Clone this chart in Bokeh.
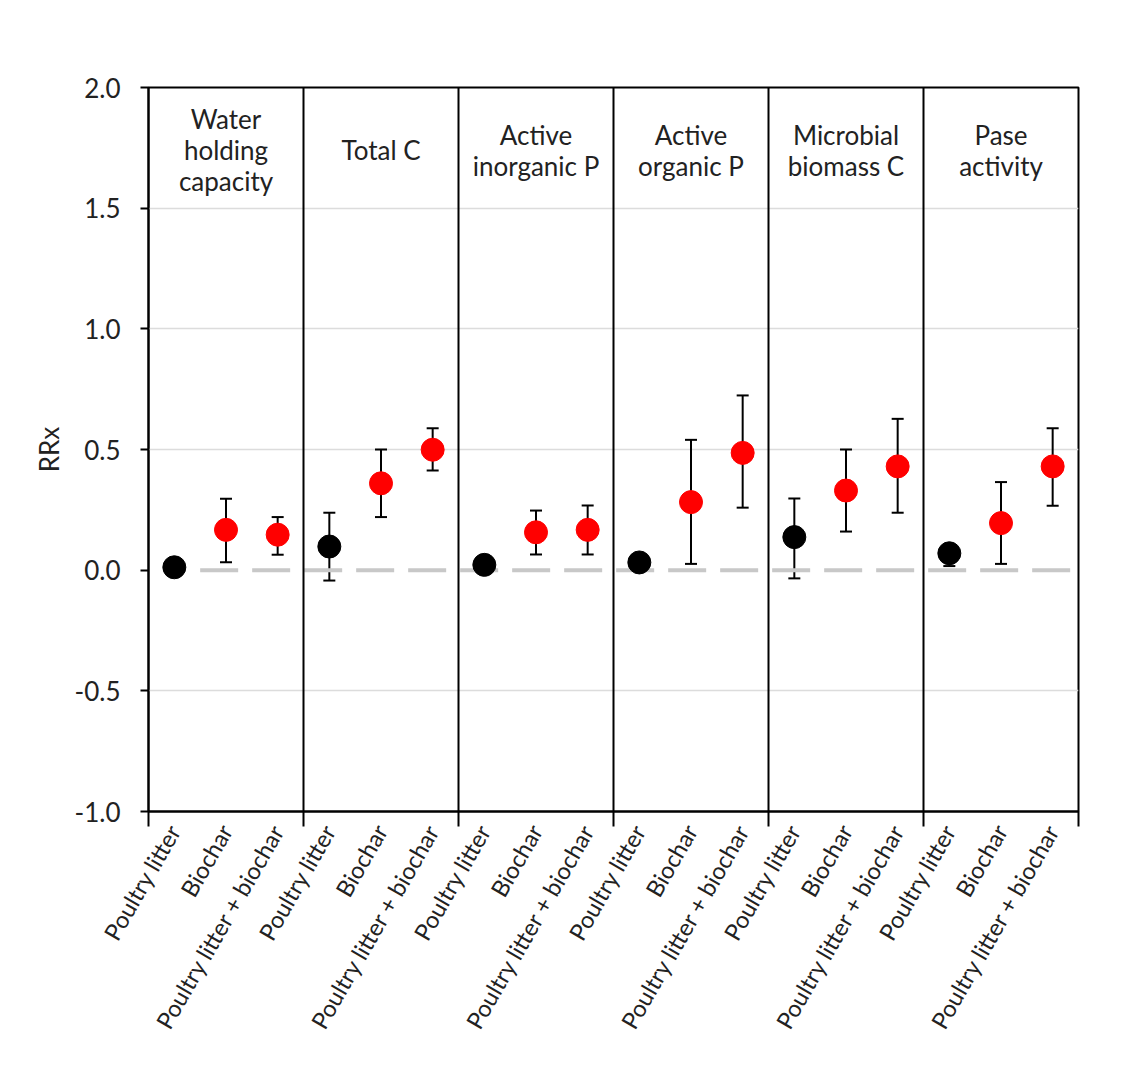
import math
from bokeh.plotting import figure
from bokeh.models import (FixedTicker, Range1d, Whisker, ColumnDataSource, Span, TeeHead)
from bokeh.core.properties import value
from bokeh.embed import file_html
from bokeh.resources import INLINE

# ---------------- data ----------------
panel_titles = ["Water\nholding\ncapacity", "Total C", "Active\ninorganic P",
                "Active\norganic P", "Microbial\nbiomass C", "Pase\nactivity"]
treatments = ["Poultry litter", "Biochar", "Poultry litter + biochar"]
treatment_colors = ["#000000", "#ff0000", "#ff0000"]

# mean RRx for each panel: [Poultry litter, Biochar, Poultry litter + biochar]
whc_mean = [0.012, 0.167, 0.147]
totc_mean = [0.098, 0.360, 0.499]
aip_mean = [0.022, 0.157, 0.167]
aop_mean = [0.032, 0.282, 0.486]
mbc_mean = [0.137, 0.330, 0.430]
pase_mean = [0.070, 0.195, 0.430]

# lower / upper error limits (None = no error bar visible)
whc_lower = [None, 0.033, 0.064]
whc_upper = [None, 0.296, 0.220]
totc_lower = [-0.043, 0.220, 0.413]
totc_upper = [0.238, 0.500, 0.588]
aip_lower = [None, 0.065, 0.065]
aip_upper = [None, 0.247, 0.268]
aop_lower = [None, 0.026, 0.259]
aop_upper = [None, 0.540, 0.724]
mbc_lower = [-0.034, 0.160, 0.238]
mbc_upper = [0.297, 0.500, 0.627]
pase_lower = [0.017, 0.026, 0.267]
pase_upper = [0.100, 0.365, 0.588]

y_ticks = [-1.0, -0.5, 0.0, 0.5, 1.0, 1.5, 2.0]
y_tick_labels = ["-1.0", "-0.5", "0.0", "0.5", "1.0", "1.5", "2.0"]

means = [whc_mean, totc_mean, aip_mean, aop_mean, mbc_mean, pase_mean]
lowers = [whc_lower, totc_lower, aip_lower, aop_lower, mbc_lower, pase_lower]
uppers = [whc_upper, totc_upper, aip_upper, aop_upper, mbc_upper, pase_upper]

n_t = len(treatments)
n_p = len(panel_titles)
n_all = n_t * n_p

xs, ys, cols = [], [], []
ex, el, eu = [], [], []
labels = {}
for i in range(n_p):
    for j in range(n_t):
        x = i * n_t + j
        xs.append(x)
        ys.append(means[i][j])
        cols.append(treatment_colors[j])
        labels[x] = treatments[j]
        if lowers[i][j] is not None:
            ex.append(x)
            el.append(lowers[i][j])
            eu.append(uppers[i][j])

FONT = "Lato"
TXT = "#222222"

p = figure(width=1118, height=1070, output_backend="svg", toolbar_location=None,
           x_range=Range1d(-0.5, n_all - 0.5), y_range=Range1d(-1.0, 2.0),
           min_border_left=148, min_border_right=40, min_border_top=87,
           min_border_bottom=259)
p.background_fill_color = "white"
p.border_fill_color = "white"
p.outline_line_color = "black"
p.outline_line_width = 2

# grid
p.xgrid.visible = False
p.ygrid.ticker = FixedTicker(ticks=[t for t in y_ticks if t not in (0.0, -1.0, 2.0)])
p.ygrid.grid_line_color = "#dcdcdc"
p.ygrid.grid_line_width = 1.5

# zero reference line (dashed), from between first and second category to the end
p.line(x=[0.5, n_all - 0.5], y=[0, 0], line_color="#c8c8c8", line_width=4,
       line_dash="38 14")

# panel separators
for i in range(1, n_p):
    p.add_layout(Span(location=i * n_t - 0.5, dimension="height",
                      line_color="black", line_width=2))

# error bars
esrc = ColumnDataSource(dict(x=ex, lower=el, upper=eu))
w = Whisker(source=esrc, base="x", lower="lower", upper="upper", dimension="height",
            line_color="black", line_width=2,
            upper_head=TeeHead(size=12, line_width=2, line_color="black"),
            lower_head=TeeHead(size=12, line_width=2, line_color="black"))
p.add_layout(w)

# points
src = ColumnDataSource(dict(x=xs, y=ys, c=cols))
p.scatter("x", "y", source=src, size=23, fill_color="c", line_color="c")

# panel titles
p.text(x=[i * n_t + 1 for i in range(n_p)], y=[1.74] * n_p, text=panel_titles,
       text_align="center", text_baseline="middle", text_font=value(FONT),
       text_font_size="26px", text_color=TXT, text_line_height=0.97)

# x axis
xa = p.xaxis[0]
xa.ticker = FixedTicker(ticks=xs, minor_ticks=[i * n_t - 0.5 for i in range(n_p + 1)])
xa.major_label_overrides = labels
xa.major_label_orientation = math.pi / 3
xa.major_tick_out = 0
xa.major_tick_in = 0
xa.major_tick_line_color = None
xa.minor_tick_out = 15
xa.minor_tick_in = 0
xa.minor_tick_line_color = "black"
xa.minor_tick_line_width = 2
xa.axis_line_color = "black"
xa.axis_line_width = 2
xa.major_label_standoff = 0
xa.major_label_text_font = FONT
xa.major_label_text_font_size = "23.5px"
xa.major_label_text_color = TXT

# y axis
ya = p.yaxis[0]
ya.ticker = FixedTicker(ticks=y_ticks)
ya.major_label_overrides = {t: l for t, l in zip(y_ticks, y_tick_labels)}
ya.major_tick_out = 8
ya.major_tick_in = 0
ya.major_tick_line_width = 2
ya.minor_tick_line_color = None
ya.axis_line_width = 2
ya.major_label_standoff = 20
ya.major_label_text_font = FONT
ya.major_label_text_font_size = "26px"
ya.major_label_text_color = TXT
ya.axis_label = "RRx"
ya.axis_label_text_font = FONT
ya.axis_label_text_font_size = "26px"
ya.axis_label_text_font_style = "normal"
ya.axis_label_text_color = TXT
ya.axis_label_standoff = 7

open("out.html", "w").write(file_html(p, INLINE))
